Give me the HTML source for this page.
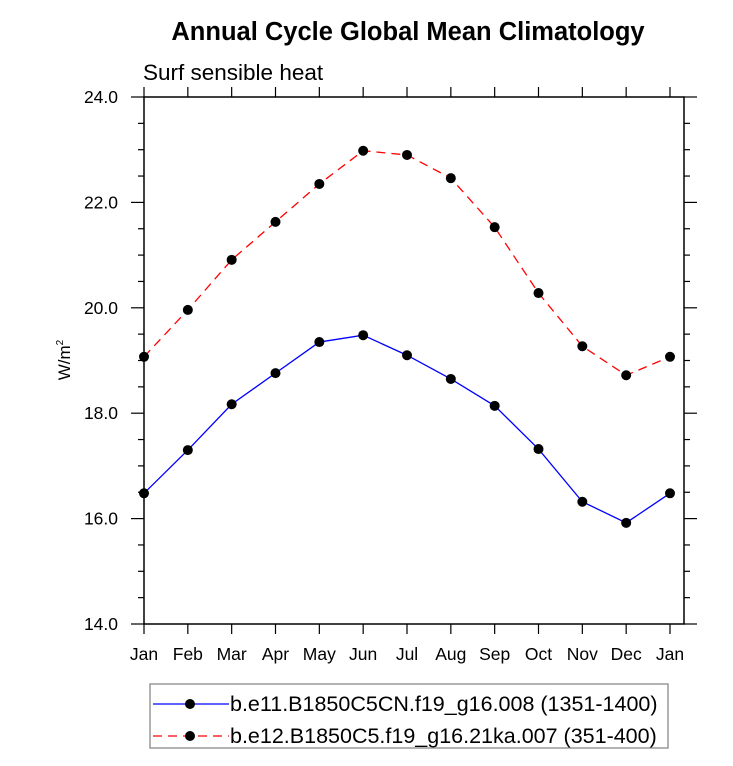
<!DOCTYPE html>
<html><head><meta charset="utf-8"><style>
body{margin:0;background:#fff;}
svg text{font-family:"Liberation Sans",sans-serif;}
</style></head><body>
<svg id="chart" width="733" height="761" xmlns="http://www.w3.org/2000/svg">
<text x="408" y="40" text-anchor="middle" font-size="25.5" font-weight="bold">Annual Cycle Global Mean Climatology</text>
<text x="143" y="80" font-size="22.5">Surf sensible heat</text>
<text transform="translate(70,360) rotate(-90)" text-anchor="middle" font-size="17">W/m<tspan dy="-7" font-size="10">2</tspan></text>
<g id="axes"></g>
<g id="series"></g>
<g>
<rect x="150" y="684" width="518" height="64" fill="none" stroke="#999" stroke-width="1.5"/>
<g>
<line x1="153" y1="704" x2="229" y2="704" stroke="#0000ff" stroke-width="1.3"/>
<circle cx="190" cy="704" r="5" fill="#000"/>
<text x="230" y="711" font-size="21.5">b.e11.B1850C5CN.f19_g16.008 (1351-1400)</text></g>
<g>
<line x1="153" y1="736" x2="229" y2="736" stroke="#ff0000" stroke-width="1.3" stroke-dasharray="9,6"/>
<circle cx="190" cy="736" r="5" fill="#000"/>
<text x="230" y="743" font-size="21.5">b.e12.B1850C5.f19_g16.21ka.007 (351-400)</text></g>
</g>
</svg>
<script>
const months=["Jan","Feb","Mar","Apr","May","Jun","Jul","Aug","Sep","Oct","Nov","Dec","Jan"];
const blueVals=[16.48,17.30,18.17,18.76,19.35,19.48,19.10,18.65,18.14,17.32,16.32,15.92,16.48];
const redVals=[19.07,19.96,20.91,21.63,22.35,22.98,22.90,22.46,21.53,20.28,19.27,18.72,19.07];
const yTicks=[14,16,18,20,22,24];
const NS="http://www.w3.org/2000/svg";
const L=144,R=684,T=97,B=624,yMin=14,yMax=24,XR=670;
function xs(i){return L+(XR-L)*i/(months.length-1);}
function ys(v){return B-(v-yMin)/(yMax-yMin)*(B-T);}
function mk(tag,attrs,parent){const e=document.createElementNS(NS,tag);for(const k in attrs)e.setAttribute(k,attrs[k]);parent.appendChild(e);return e;}
const ax=document.getElementById('axes');
let f=mk('rect',{x:L,y:T,width:R-L,height:B-T,fill:'none',stroke:'#000','stroke-width':1.5},ax);


months.forEach((m,i)=>{
  const x=xs(i);
  mk('line',{x1:x,y1:B,x2:x,y2:B+10,stroke:'#000','stroke-width':1.2},ax);
  mk('line',{x1:x,y1:T,x2:x,y2:T-10,stroke:'#000','stroke-width':1.2},ax);
  const t=mk('text',{x:x,y:B+36,'text-anchor':'middle','font-size':17.5},ax);
  t.textContent=m;
  
  
});
for(let v=yMin;v<=yMax+1e-9;v+=0.5){
  const y=ys(v);const maj=Math.abs(v-Math.round(v/2)*2)<1e-6;
  const len=maj?13:6;
  mk('line',{x1:L,y1:y,x2:L-len,y2:y,stroke:'#000','stroke-width':1.2},ax);
  mk('line',{x1:R,y1:y,x2:R+len,y2:y,stroke:'#000','stroke-width':1.2},ax);
}
yTicks.forEach(v=>{
  const t=mk('text',{x:L-26,y:ys(v)+6,'text-anchor':'end','font-size':17.5},ax);
  t.textContent=v.toFixed(1);
  
  
});
const sg=document.getElementById('series');
function draw(vals,color,dash,name){
  const g=mk('g',{},sg);
  
  
  const p=mk('polyline',{points:vals.map((v,i)=>xs(i)+','+ys(v)).join(' '),fill:'none',stroke:color,'stroke-width':1.3},g);
  if(dash)p.setAttribute('stroke-dasharray',dash);
  vals.forEach((v,i)=>{
    const c=mk('circle',{cx:xs(i),cy:ys(v),r:5,fill:'#000'},g);
    
    
  });
}
draw(blueVals,'#0000ff',null,'series-blue');
draw(redVals,'#ff0000','9,6','series-red');
</script>
</body></html>
